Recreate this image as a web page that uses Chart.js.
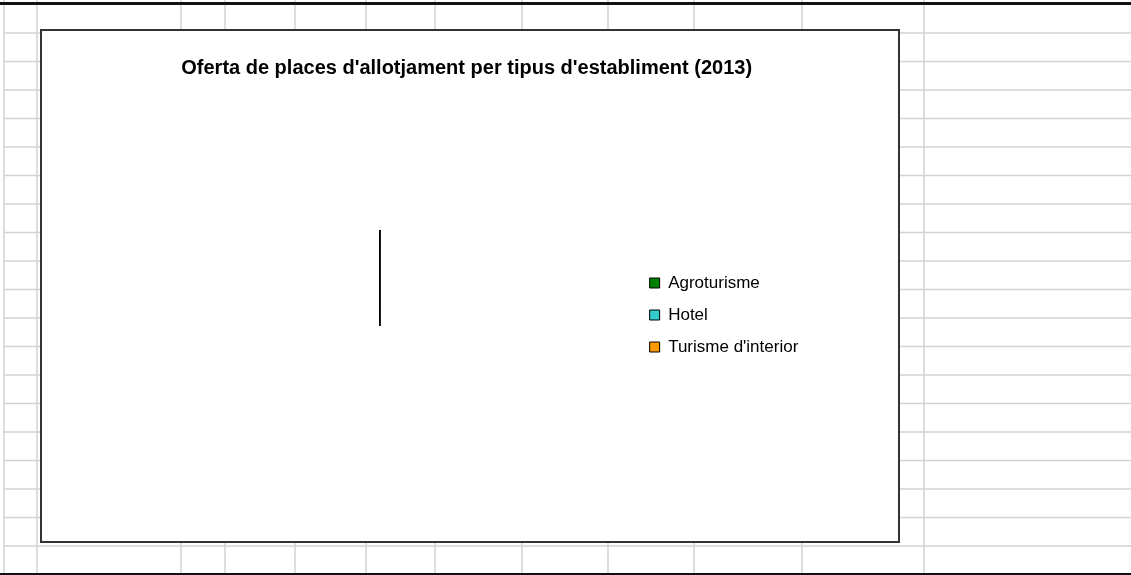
<!DOCTYPE html>
<html lang="ca">
<head>
<meta charset="utf-8">
<title>Oferta de places d'allotjament per tipus d'establiment (2013)</title>
<script src="https://cdn.jsdelivr.net/npm/chart.js@4.4.1/dist/chart.umd.min.js"></script>
<style>
    html, body { margin: 0; padding: 0; background: #fff; }
    #chart { display: block; }
</style>
</head>
<body>
<canvas id="chart" width="1131" height="575"></canvas>
<script>
// Chart data
const categories = ['Agroturisme', 'Hotel', "Turisme d'interior"];
// The pie is collapsed to a thin line in the source, slice sizes can't be read
const places = [1, 1, 1];
const sliceColors = ['#008000', '#33CCCC', '#FF9900'];
const chartTitle = "Oferta de places d'allotjament per tipus d'establiment (2013)";

// Spreadsheet cells behind the chart object
const sheetCols = [4, 37, 181, 225, 295, 366, 435, 522, 608, 694, 802, 924];
const sheetRowTop = 33;
const sheetRowHeight = 28.5;
const sheetRows = 19;
const chartBox = { x: 41, y: 30, w: 858, h: 512 };

const sheetPlugin = {
    id: 'sheet',
    beforeDraw(chart) {
        const { ctx, width, height } = chart;
        ctx.save();
        ctx.fillStyle = '#fff';
        ctx.fillRect(0, 0, width, height);

        // cell grid
        ctx.strokeStyle = '#d2d2d2';
        ctx.lineWidth = 1.5;
        ctx.beginPath();
        sheetCols.forEach(x => {
            ctx.moveTo(x, 0);
            ctx.lineTo(x, height);
        });
        for (let i = 0; i < sheetRows; i++) {
            const y = sheetRowTop + i * sheetRowHeight;
            ctx.moveTo(sheetCols[0], y);
            ctx.lineTo(width, y);
        }
        ctx.stroke();

        // page break style lines top and bottom
        ctx.fillStyle = '#111';
        ctx.fillRect(0, 2, width, 3);
        ctx.fillRect(0, 573, width, 2);

        // chart object frame
        ctx.fillStyle = '#fff';
        ctx.fillRect(chartBox.x, chartBox.y, chartBox.w, chartBox.h);
        ctx.strokeStyle = '#333';
        ctx.lineWidth = 2;
        ctx.strokeRect(chartBox.x, chartBox.y, chartBox.w, chartBox.h);
        ctx.restore();
    }
};

Chart.defaults.font.family = "'Liberation Sans', Arial, sans-serif";
Chart.defaults.color = '#000';

new Chart(document.getElementById('chart'), {
    type: 'pie',
    data: {
        labels: categories,
        datasets: [{
            data: places,
            backgroundColor: sliceColors,
            borderColor: '#000',
            borderWidth: 1
        }]
    },
    options: {
        responsive: false,
        animation: false,
        events: [],
        // squeezed plot area: the pie shows up as a thin vertical line
        radius: 96,
        rotation: 0,
        circumference: 0.05,
        layout: {
            padding: { left: 125, right: 322.7, top: 30, bottom: 204.5 }
        },
        plugins: {
            title: {
                display: true,
                text: chartTitle,
                color: '#000',
                font: { size: 20, weight: 'bold' },
                padding: { top: 26, bottom: 105.5 }
            },
            legend: {
                position: 'right',
                align: 'end',
                labels: {
                    boxWidth: 10,
                    boxHeight: 10,
                    padding: 15,
                    color: '#000',
                    font: { size: 17 }
                }
            },
            tooltip: { enabled: false }
        }
    },
    plugins: [sheetPlugin]
});
</script>
</body>
</html>
